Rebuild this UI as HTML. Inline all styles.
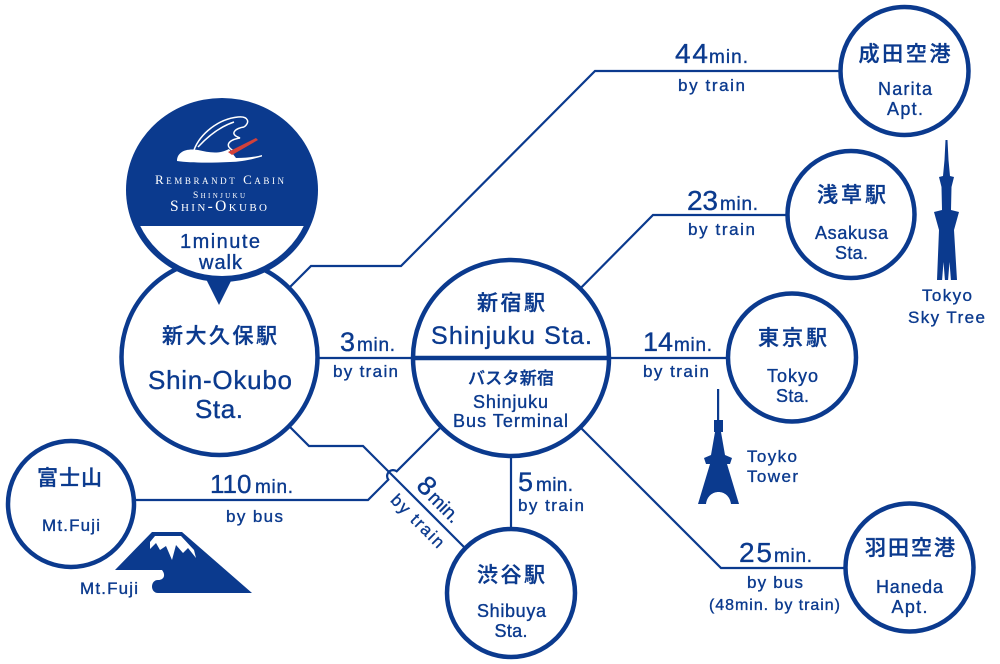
<!DOCTYPE html>
<html><head><meta charset="utf-8">
<style>
html,body{margin:0;padding:0;background:#fff;}
svg{display:block;}
text{font-family:"Liberation Sans","Noto Sans CJK JP",sans-serif;fill:#0b3a8e;stroke:#0b3a8e;stroke-width:0.35px;}
.jp{font-weight:500;}
.w{fill:#fff;stroke:none;font-family:"Liberation Serif",serif;}
</style></head>
<body>
<svg width="1000" height="664" viewBox="0 0 1000 664" xmlns="http://www.w3.org/2000/svg">
<defs>
<clipPath id="wc"><rect x="0" y="226" width="1000" height="100"/></clipPath>
</defs>

<!-- connectors -->
<g fill="none" stroke="#0b3a8e" stroke-width="2.2" stroke-linejoin="miter">
  <path d="M280,297 L311,266 L401,266 L595,71 L842,71"/>
  <path d="M318,358 L414,358"/>
  <path d="M560,309 L653,215 L790,215"/>
  <path d="M608,358 L730,358"/>
  <path d="M560,407 L721,568 L848,568"/>
  <path d="M511,455 L511,531"/>
  <path d="M270,407 L309,446 L363,446 L470,553"/>
  <path d="M130,500 L368,500 L388.3,479.7 A6,6 0 0 1 396.7,471.3 L460,408"/>
</g>

<!-- circles -->
<g fill="#fff" stroke="#0b3a8e" stroke-width="4.5">
  <circle cx="219.5" cy="357" r="98"/>
  <circle cx="511" cy="358" r="98"/>
  <circle cx="904.5" cy="71" r="64"/>
  <circle cx="851" cy="214.5" r="63.5"/>
  <circle cx="792" cy="357.5" r="64"/>
  <circle cx="909.5" cy="567.5" r="64"/>
  <circle cx="511" cy="593" r="64"/>
  <circle cx="71" cy="504" r="63"/>
</g>
<line x1="413" y1="358" x2="609" y2="358" stroke="#0b3a8e" stroke-width="4.5"/>

<!-- bubble -->
<ellipse cx="222" cy="190" rx="96" ry="92" fill="#0b3a8e"/>
<ellipse cx="222" cy="190" rx="90" ry="86" fill="#fff" clip-path="url(#wc)"/>
<path d="M206,279 Q219,284 232,279 L219,305 Z" fill="#0b3a8e"/>

<!-- logo -->
<path d="M177,161 C177,152 186,148 198,150 C208,152 218,155 229,149 L236,158 C246,158 255,157 262,155 L262,156.5 C250,160 240,162 230,162 C210,163 190,163 177,161 Z" fill="#fff"/>
<g fill="none" stroke="#fff" stroke-width="1.5">
  <path d="M194,150 C200,134 218,119 238,117 C249,116 250,123 244,127"/>
  <path d="M244,127 C236,128 228,134 240,138 C228,140 224,146 234,151"/>
  <path d="M198,147 C210,134 222,126 234,122"/>
</g>
<path d="M228,152 L256,138 L258,140 L232,155 Z" fill="#d2413a"/>
<text class="w" x="219.5" y="184" font-size="13" text-anchor="middle" textLength="129" style="font-variant:small-caps">Rembrandt Cabin</text>
<text class="w" x="219" y="198" font-size="9.5" text-anchor="middle" textLength="52" style="font-variant:small-caps">Shinjuku</text>
<text class="w" x="218.5" y="211" font-size="15.5" text-anchor="middle" textLength="97" style="font-variant:small-caps">Shin-Okubo</text>
<text x="220" y="248" font-size="20" text-anchor="middle" textLength="80">1minute</text>
<text x="220.5" y="269" font-size="20" text-anchor="middle" textLength="43">walk</text>

<!-- Shin-Okubo -->
<text class="jp" x="219.5" y="343" font-size="21" text-anchor="middle" textLength="115">新大久保駅</text>
<text x="220" y="389" font-size="26" text-anchor="middle" textLength="144">Shin-Okubo</text>
<text x="219" y="418" font-size="26" text-anchor="middle" textLength="48">Sta.</text>

<!-- Shinjuku -->
<text class="jp" x="511" y="310" font-size="21" text-anchor="middle" textLength="68">新宿駅</text>
<text x="511.5" y="344" font-size="25" text-anchor="middle" textLength="161">Shinjuku Sta.</text>
<text class="jp" x="511" y="384" font-size="17" text-anchor="middle" textLength="86">バスタ新宿</text>
<text x="510.5" y="408" font-size="18" text-anchor="middle" textLength="75">Shinjuku</text>
<text x="510.5" y="427" font-size="18" text-anchor="middle" textLength="115">Bus Terminal</text>

<!-- Narita -->
<text class="jp" x="904.5" y="61" font-size="21" text-anchor="middle" textLength="92">成田空港</text>
<text x="905" y="95" font-size="18" text-anchor="middle" textLength="54">Narita</text>
<text x="905" y="115" font-size="18" text-anchor="middle" textLength="36">Apt.</text>

<!-- Asakusa -->
<text class="jp" x="851.5" y="202" font-size="21" text-anchor="middle" textLength="69">浅草駅</text>
<text x="851.5" y="239" font-size="18" text-anchor="middle" textLength="73">Asakusa</text>
<text x="851.5" y="259" font-size="18" text-anchor="middle" textLength="33">Sta.</text>

<!-- Tokyo -->
<text class="jp" x="792.5" y="345" font-size="21" text-anchor="middle" textLength="69">東京駅</text>
<text x="792.5" y="382" font-size="18" text-anchor="middle" textLength="51">Tokyo</text>
<text x="792.5" y="402" font-size="18" text-anchor="middle" textLength="33">Sta.</text>

<!-- Haneda -->
<text class="jp" x="910" y="555" font-size="21" text-anchor="middle" textLength="90">羽田空港</text>
<text x="909.5" y="593" font-size="18" text-anchor="middle" textLength="67">Haneda</text>
<text x="909.5" y="613" font-size="18" text-anchor="middle" textLength="36">Apt.</text>

<!-- Shibuya -->
<text class="jp" x="511" y="582" font-size="21" text-anchor="middle" textLength="68">渋谷駅</text>
<text x="511.5" y="617" font-size="18" text-anchor="middle" textLength="69">Shibuya</text>
<text x="511" y="637" font-size="18" text-anchor="middle" textLength="33">Sta.</text>

<!-- Fuji -->
<text class="jp" x="69.5" y="485" font-size="21" text-anchor="middle" textLength="65">富士山</text>
<text x="71" y="531" font-size="17" text-anchor="middle" textLength="58">Mt.Fuji</text>

<!-- time labels -->
<text x="675" y="63" font-size="28" textLength="33">44</text>
<text x="709" y="63" font-size="19" textLength="39">min.</text>
<text x="678" y="91" font-size="17" textLength="67">by train</text>

<text x="687" y="210" font-size="28" textLength="31">23</text>
<text x="720" y="210" font-size="19" textLength="38">min.</text>
<text x="688" y="235" font-size="17" textLength="67">by train</text>

<text x="643" y="351" font-size="27">14</text>
<text x="674" y="351" font-size="19" textLength="38">min.</text>
<text x="643" y="377" font-size="17" textLength="66">by train</text>

<text x="340" y="351" font-size="27">3</text>
<text x="357" y="351" font-size="19" textLength="38">min.</text>
<text x="333" y="377" font-size="17" textLength="65">by train</text>

<text x="518" y="491" font-size="27">5</text>
<text x="536" y="491" font-size="19" textLength="37">min.</text>
<text x="518" y="511" font-size="17" textLength="66">by train</text>

<text x="210" y="493" font-size="26">110</text>
<text x="255" y="493" font-size="19" textLength="38">min.</text>
<text x="226" y="522" font-size="17" textLength="57">by bus</text>

<text x="739" y="562" font-size="28" textLength="33">25</text>
<text x="774" y="562" font-size="19" textLength="38">min.</text>
<text x="747" y="588" font-size="17" textLength="56">by bus</text>
<text x="709" y="610" font-size="16" textLength="131">(48min. by train)</text>

<g transform="translate(392.5,475.5) rotate(45)">
  <text x="24" y="-8" font-size="27">8</text>
  <text x="41" y="-8" font-size="19" textLength="36">min.</text>
  <text x="16" y="20" font-size="17" textLength="68">by train</text>
</g>

<!-- Mt Fuji -->
<path d="M115,570 L152,532 L182,532 L252,593 L158,593 C150,593 150,580 158,580 C164,580 166,575 162,570 Z" fill="#0b3a8e"/>
<path d="M150,542 L155,536 L181,536 L194,550 L196,558 L188,548 L183,553 L176,545 L172,560 L166,546 L160,550 L156,543 L150,549 Z" fill="#fff"/>
<text x="80" y="594" font-size="17" textLength="58">Mt.Fuji</text>

<!-- Tokyo Tower -->
<rect x="717" y="389" width="2.2" height="32" fill="#0b3a8e"/>
<rect x="714" y="420" width="9" height="12" fill="#0b3a8e"/>
<path d="M715,432 L721,432 L725,455 L732,458 L730,464 L727,464 L739,504 L731,504 C729,488 708,488 706,504 L698,504 L710,464 L706,464 L704,458 L711,455 Z" fill="#0b3a8e"/>
<text x="747" y="462" font-size="17" textLength="50">Toyko</text>
<text x="747" y="482" font-size="17" textLength="51">Tower</text>

<!-- Sky Tree -->
<polygon points="945.5,140 947.5,140 948.5,160 950,176 954,177 951.5,187 951,210 959,212 954,230 957,280 937,280 939,230 934,212 942,210 941.5,187 939,177 943,176 944.5,160" fill="#0b3a8e"/>
<polygon points="942,281 943.5,262 945,281" fill="#fff"/>
<polygon points="948,281 949.5,262 951,281" fill="#fff"/>
<text x="947" y="301" font-size="17" text-anchor="middle" textLength="50">Tokyo</text>
<text x="946.5" y="323" font-size="17" text-anchor="middle" textLength="77">Sky Tree</text>
</svg>
</body></html>
